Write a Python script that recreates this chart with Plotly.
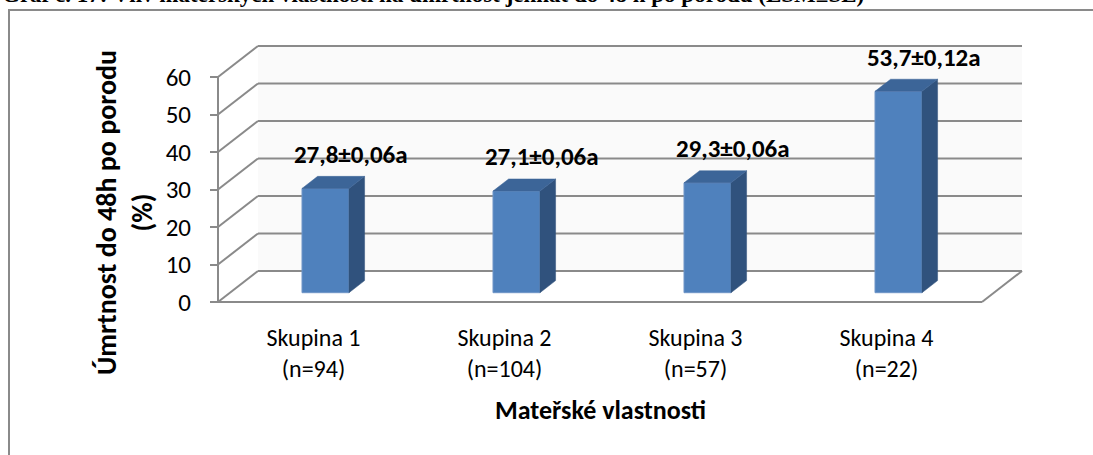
import plotly.graph_objects as go

# ---------------- data ----------------
categories = ["Skupina 1", "Skupina 2", "Skupina 3", "Skupina 4"]
group_sizes = ["n=94", "n=104", "n=57", "n=22"]
values = [27.8, 27.1, 29.3, 53.7]
errors = ["0,06", "0,06", "0,06", "0,12"]
letters = ["a", "a", "a", "a"]
y_ticks = [0, 10, 20, 30, 40, 50, 60]
y_max = 60

title_text = "Graf č. 17: Vliv mateřských vlastností na úmrtnost jehňat do 48 h po porodu (LSM±SE)"
y_title = "Úmrtnost do 48h po porodu<br>(%)"
x_title = "Mateřské vlastnosti"

# ---------------- geometry / style ----------------
W, H = 1093, 455
PX_CAT = 191.0          # pixels per category
PX_UNIT = 3.75          # pixels per value unit
X0_PX, Y0_PX = 218, 302 # pixel of (x=-0.5, y=0) on the front plane
PAD = 6
DEPTH_X = 40 / PX_CAT   # wall depth, in category units
DEPTH_Y = 31 / PX_UNIT  # wall depth, in value units
n = len(categories)

x_range = [-0.5 - PAD / PX_CAT, n - 0.5 + DEPTH_X + PAD / PX_CAT]
y_range = [-PAD / PX_UNIT, y_max + DEPTH_Y + PAD / PX_UNIT]
plot_w = (x_range[1] - x_range[0]) * PX_CAT
plot_h = (y_range[1] - y_range[0]) * PX_UNIT
ML = X0_PX - PAD
MB = H - Y0_PX - PAD
MR = W - ML - plot_w
MT = H - MB - plot_h


def px_to_paper_x(px):
    return (px - ML) / plot_w


def px_to_paper_y(py):
    return (H - MB - py) / plot_h


FONT = "Carlito, Calibri, Lato, sans-serif"
GRID = "#8a8a8a"
FRONT = "#4F81BD"
TOP = "#3C6598"
SIDE = "#30527D"

BAR_W = 0.246
BAR_FRONT_D = 0.30   # depth fraction of bar front face
BAR_DEPTH = 0.39     # depth fraction of bar thickness

fig = go.Figure()

shapes = []
# back wall faint fill (below traces)
wx0, wx1 = -0.5 + DEPTH_X, n - 0.5 + DEPTH_X
wy0, wy1 = DEPTH_Y, y_max + DEPTH_Y
shapes.append(dict(type="rect", xref="x", yref="y", x0=wx0, y0=wy0, x1=wx1, y1=wy1,
                   fillcolor="#fafafa", line=dict(width=0), layer="below"))
# gridlines on side wall + back wall
for v in y_ticks:
    shapes.append(dict(type="line", xref="x", yref="y", x0=-0.5, y0=v,
                       x1=-0.5 + DEPTH_X, y1=v + DEPTH_Y, line=dict(color=GRID, width=2), layer="below"))
    shapes.append(dict(type="line", xref="x", yref="y", x0=-0.5 + DEPTH_X, y0=v + DEPTH_Y,
                       x1=n - 0.5 + DEPTH_X, y1=v + DEPTH_Y, line=dict(color=GRID, width=2), layer="below"))
# floor front and right edge
shapes.append(dict(type="line", xref="x", yref="y", x0=-0.5, y0=0, x1=n - 0.5, y1=0,
                   line=dict(color=GRID, width=2), layer="below"))
shapes.append(dict(type="line", xref="x", yref="y", x0=n - 0.5, y0=0, x1=n - 0.5 + DEPTH_X, y1=DEPTH_Y,
                   line=dict(color=GRID, width=2), layer="below"))
# front value axis
shapes.append(dict(type="line", xref="x", yref="y", x0=-0.5, y0=0, x1=-0.5, y1=y_max,
                   line=dict(color=GRID, width=2), layer="below"))
# outer chart frame (extends past the right and bottom edges)
shapes.append(dict(type="rect", xref="paper", yref="paper",
                   x0=px_to_paper_x(9), y0=px_to_paper_y(H + 20),
                   x1=px_to_paper_x(W + 20), y1=px_to_paper_y(10),
                   line=dict(color=GRID, width=2), layer="below"))

# bars: front face
fx = BAR_FRONT_D * DEPTH_X
fy = BAR_FRONT_D * DEPTH_Y
dx = BAR_DEPTH * DEPTH_X
dy = BAR_DEPTH * DEPTH_Y
xs = list(range(n))

fig.add_trace(go.Bar(
    x=xs, y=values, base=[fy] * n, width=BAR_W, offset=fx - BAR_W / 2,
    marker=dict(color=FRONT, line=dict(color="#6f95c7", width=1)),
    hoverinfo="skip", showlegend=False))

# bars: side and top faces derived from the values
for i, v in enumerate(values):
    xl = i + fx - BAR_W / 2
    xr = i + fx + BAR_W / 2
    b = fy
    t = fy + v
    fig.add_trace(go.Scatter(
        x=[xr, xr + dx, xr + dx, xr, xr], y=[b, b + dy, t + dy, t, b],
        fill="toself", fillcolor=SIDE, mode="lines", line=dict(color=SIDE, width=0.5),
        hoverinfo="skip", showlegend=False))
    fig.add_trace(go.Scatter(
        x=[xl, xl + dx, xr + dx, xr, xl], y=[t, t + dy, t + dy, t, t],
        fill="toself", fillcolor=TOP, mode="lines", line=dict(color=TOP, width=0.5),
        hoverinfo="skip", showlegend=False))

# data labels
labels = [f"{v:.1f}".replace(".", ",") + "±" + e + l for v, e, l in zip(values, errors, letters)]
fig.add_trace(go.Scatter(
    x=[i + 0.195 for i in xs], y=[v + 11 for v in values], mode="text",
    text=[f"<b>{s}</b>" for s in labels], textposition="middle center",
    textfont=dict(family=FONT, size=25, color="#000000"), cliponaxis=False,
    hoverinfo="skip", showlegend=False))

annotations = [
    dict(text=f"<b>{y_title}</b>", xref="paper", yref="paper",
         x=px_to_paper_x(125), y=px_to_paper_y(213), textangle=-90,
         showarrow=False, xanchor="center", yanchor="middle",
         font=dict(family=FONT, size=28, color="#000000")),
    dict(text=f"<b>{x_title}</b>", xref="paper", yref="paper",
         x=px_to_paper_x(600), y=px_to_paper_y(410),
         showarrow=False, xanchor="center", yanchor="middle",
         font=dict(family=FONT, size=26, color="#000000")),
    dict(text=f"<b>{title_text}</b>", xref="paper", yref="paper",
         x=px_to_paper_x(0), y=px_to_paper_y(-5), xanchor="left", yanchor="middle",
         showarrow=False, font=dict(family="Liberation Serif, Times New Roman, serif", size=23,
                                    color="#000000")),
]

fig.update_layout(
    width=W, height=H,
    margin=dict(l=ML, r=MR, t=MT, b=MB, pad=0, autoexpand=False),
    paper_bgcolor="white", plot_bgcolor="rgba(0,0,0,0)",
    shapes=shapes, annotations=annotations, showlegend=False, barmode="overlay",
    xaxis=dict(range=x_range, tickvals=xs,
               ticktext=[f"{c}<br>({g})" for c, g in zip(categories, group_sizes)],
               showgrid=False, zeroline=False, showline=False, ticks="",
               ticklabelstandoff=13,
               tickfont=dict(family=FONT, size=24, color="#000000")),
    yaxis=dict(range=y_range, tickvals=y_ticks, showgrid=False, zeroline=False, showline=False,
               anchor="free", position=px_to_paper_x(X0_PX),
               ticks="outside", ticklen=8, tickwidth=2, tickcolor=GRID,
               ticklabelstandoff=14,
               tickfont=dict(family=FONT, size=25, color="#000000")),
)

fig.write_html("out.html", config={"displayModeBar": False},
               post_script="document.body.style.margin='0';document.body.style.overflow='hidden';")
